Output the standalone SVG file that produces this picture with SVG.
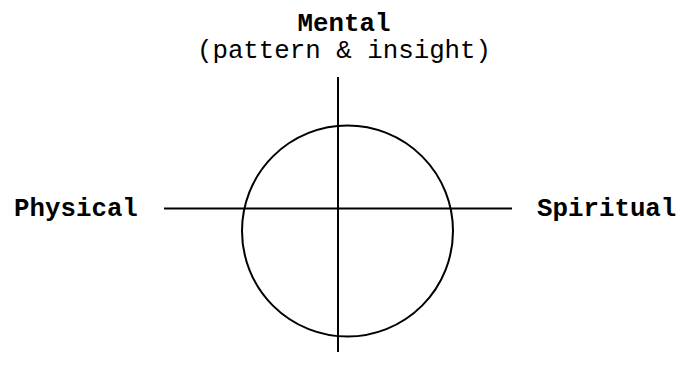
<svg xmlns="http://www.w3.org/2000/svg" width="679" height="381" viewBox="0 0 679 381">
<style>
.t{font-family:"Liberation Mono","Courier New",monospace;font-size:25.8px;fill:#000}
.b{font-weight:bold}
.ln{stroke:#000;stroke-width:2;fill:none}
</style>
<rect width="679" height="381" fill="#fff"/>
<g id="connectors">
<line class="ln" x1="338" y1="77" x2="338" y2="352"/>
<line class="ln" x1="164" y1="208.5" x2="512" y2="208.5"/>
</g>
<g id="circle"><circle class="ln" cx="347.5" cy="231" r="105.5"/></g>
<g id="mental">
<text class="t b" x="344" y="31" text-anchor="middle">Mental</text>
<text class="t" x="344" y="58" text-anchor="middle">(pattern &amp; insight)</text>
</g>
<g id="physical"><text class="t b" x="14" y="216">Physical</text></g>
<g id="spiritual"><text class="t b" x="537" y="216">Spiritual</text></g>
</svg>
